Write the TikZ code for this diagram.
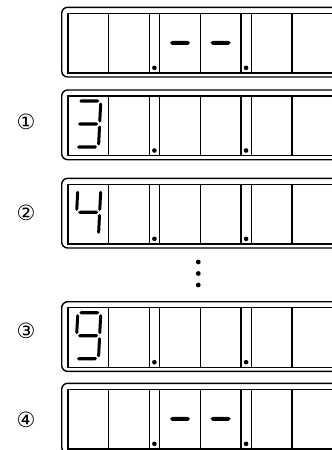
\documentclass[tikz,border=0pt]{standalone}
\usepackage{fontspec}
\newfontfamily\dejavu{DejaVu Sans}
\tikzset{
  outerbox/.style={draw=black, line width=1.4pt, rounded corners=6pt},
  innerbox/.style={draw=black, line width=1.4pt},
  divider/.style={draw=black, line width=1.4pt},
  lbl/.style={font=\dejavu\fontsize{21}{21}\selectfont, inner sep=0pt},
}
\newcommand\lcdframe[1]{%
  \draw[outerbox] (61.7,#1) rectangle (338,#1+69.7);
  \draw[innerbox] (67.8,#1+6) rectangle (332.7,#1+65.5);
  \foreach \xx in {108.5,149.2,159.6,200.3,241,251.3,292}
    \draw[divider] (\xx,#1+6) -- (\xx,#1+65.5);
  \fill (154.4,#1+60.5) circle (2.3);
  \fill (246.1,#1+60.5) circle (2.3);
}
\newcommand\lhsg[3]{\fill (#1,#3) -- (#1+1.6,#3+1.6) -- (#2-1.6,#3+1.6) -- (#2,#3) -- (#2-1.6,#3-1.6) -- (#1+1.6,#3-1.6) -- cycle;}
\newcommand\ldash[3]{\fill (#1,#3) -- (#1+2,#3+2) -- (#2-2,#3+2) -- (#2,#3) -- (#2-2,#3-2) -- (#1+2,#3-2) -- cycle;}
\newcommand\lvsg[3]{\fill (#1,#2) -- (#1+1.5,#2+1.5) -- (#1+1.5,#3-1.5) -- (#1,#3) -- (#1-1.5,#3-1.5) -- (#1-1.5,#2+1.5) -- cycle;}
\newcommand\lsA{\lhsg{-10}{10}{-23}}
\newcommand\lsB{\lvsg{11.5}{-21.5}{-1.5}}
\newcommand\lsC{\lvsg{11.5}{1.5}{21.5}}
\newcommand\lsD{\lhsg{-10}{10}{23}}
\newcommand\lsE{\lvsg{-11.5}{1.5}{21.5}}
\newcommand\lsF{\lvsg{-11.5}{-21.5}{-1.5}}
\newcommand\lsG{\lhsg{-10}{10}{0}}
\newcommand\lsDash{\ldash{-10}{10}{0}}
\begin{document}
\begin{tikzpicture}[x=1pt,y=-1pt]
\useasboundingbox (0,0) rectangle (332,450);
\clip (0,0) rectangle (332,450);

% display 0
\lcdframe{7.3}
\begin{scope}[shift={(179.95,42.8)}]\lsDash\end{scope}
\begin{scope}[shift={(220.65,42.8)}]\lsDash\end{scope}

% display 1 : 3
\lcdframe{90}
\begin{scope}[shift={(88.15,124)}, xslant=0.05]\lsA\lsB\lsC\lsD\lsG\end{scope}
\node[lbl] (n1) at (26,121.5) {①};

% display 2 : 4
\lcdframe{178.3}
\begin{scope}[shift={(88.15,212.3)}, xslant=0.05]\lsF\lsG\lsB\lsC\end{scope}
\node[lbl] (n2) at (26,213) {②};

% vertical dots
\fill (198.3,262) circle (2.4);
\fill (198.3,273.5) circle (2.4);
\fill (198.3,285) circle (2.4);

% display 3 : 9
\lcdframe{301.7}
\begin{scope}[shift={(88.15,335.7)}, xslant=0.05]\lsA\lsB\lsC\lsD\lsF\lsG\end{scope}
\node[lbl] (n3) at (26,331) {③};

% display 4
\lcdframe{383.3}
\begin{scope}[shift={(179.95,418.8)}]\lsDash\end{scope}
\begin{scope}[shift={(220.65,418.8)}]\lsDash\end{scope}
\node[lbl] (n4) at (26,420) {④};
\end{tikzpicture}
\end{document}
